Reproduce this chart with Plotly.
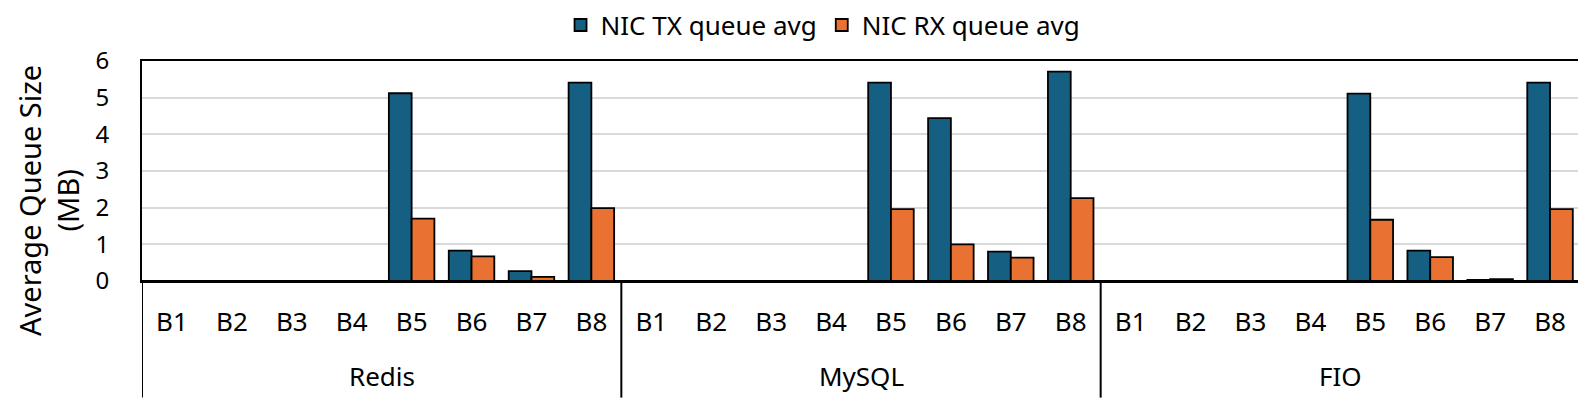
import plotly.graph_objects as go

groups = ["Redis", "MySQL", "FIO"]
cats = ["B1", "B2", "B3", "B4", "B5", "B6", "B7", "B8"]
tx = {
    "Redis": [0, 0, 0, 0, 5.12, 0.83, 0.27, 5.41],
    "MySQL": [0, 0, 0, 0, 5.41, 4.44, 0.80, 5.71],
    "FIO":   [0, 0, 0, 0, 5.11, 0.83, 0.03, 5.41],
}
rx = {
    "Redis": [0, 0, 0, 0, 1.70, 0.67, 0.11, 1.99],
    "MySQL": [0, 0, 0, 0, 1.96, 1.00, 0.64, 2.26],
    "FIO":   [0, 0, 0, 0, 1.67, 0.65, 0.05, 1.96],
}

keys = [f"{g}|{c}" for g in groups for c in cats]
labels = [c for g in groups for c in cats]
tx_vals = [v for g in groups for v in tx[g]]
rx_vals = [v for g in groups for v in rx[g]]

FONT = "Noto Sans"
n = len(cats)

fig = go.Figure()
fig.add_trace(go.Bar(x=keys, y=tx_vals, name="NIC TX queue avg",
                     marker=dict(color="#156082", line=dict(color="black", width=1.8))))
fig.add_trace(go.Bar(x=keys, y=rx_vals, name="NIC RX queue avg",
                     marker=dict(color="#E97132", line=dict(color="black", width=1.8))))

# group labels and dividers of the two-level category axis
for i, g in enumerate(groups):
    fig.add_annotation(x=i * n + (n - 1) / 2, xref="x", y=-0.43, yref="paper",
                       text=g, showarrow=False, xanchor="center", yanchor="middle",
                       font=dict(size=26))
for i in range(len(groups) + 1):
    xd = i * n - 0.5
    fig.add_shape(type="line", xref="x", yref="paper", x0=xd, x1=xd, y0=0, y1=-0.53,
                  line=dict(color="black", width=2))

fig.add_annotation(text="Average Queue Size<br>(MB)", xref="paper", yref="paper",
                   x=(41 - 134) / 1438, y=0.364, textangle=-90, showarrow=False,
                   xanchor="center", yanchor="middle", font=dict(size=29))

fig.update_layout(
    width=1586, height=402,
    margin=dict(l=134, r=14, t=53, b=129, autoexpand=False),
    paper_bgcolor="white", plot_bgcolor="white",
    barmode="group", bargap=0.24, bargroupgap=0,
    font=dict(family=FONT, size=26, color="black"),
    showlegend=True,
    legend=dict(orientation="h", x=0.4736, xanchor="center", yref="paper", y=1.27,
                yanchor="top", font=dict(size=26), traceorder="normal",
                bgcolor="rgba(0,0,0,0)"),
    xaxis=dict(type="category", range=[-0.5, len(keys) - 0.5],
               tickmode="array", tickvals=keys, ticktext=labels,
               showline=True, linecolor="black", linewidth=2,
               mirror=True, ticks="", showgrid=False, ticklabelstandoff=17,
               tickfont=dict(size=26)),
    yaxis=dict(range=[0, 6], dtick=1, showgrid=True, gridcolor="#d9d9d9", gridwidth=2,
               showline=True, linecolor="black", linewidth=2, mirror=True,
               ticks="", tickfont=dict(size=24), zeroline=True, zerolinecolor="black",
               zerolinewidth=2, ticklabelstandoff=26),
)
fig.write_html("out.html")
